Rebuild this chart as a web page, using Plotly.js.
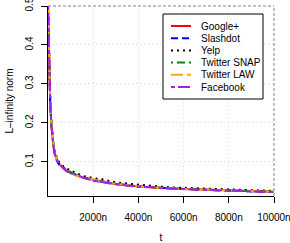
<!DOCTYPE html>
<html><head><meta charset="utf-8">
<script src="https://cdn.plot.ly/plotly-3.0.1.min.js"></script>
<style>html,body{margin:0;padding:0;background:#fff}#chart{width:290px;height:243px}</style>
</head><body><div id="chart"></div>
<script>
var t = [0,25,50,75,100,150,200,250,300,400,500,600,700,800,1000,1200,1400,1600,1800,2000,2250,2500,2750,3000,3500,4000,4500,5000,5500,6000,6500,7000,7500,8000,8500,9000,9500,10000];
var googlePlus = [0.5,0.41,0.335,0.285,0.245,0.192,0.158,0.137,0.121,0.104,0.094,0.088,0.082,0.078,0.071,0.066,0.062,0.058,0.056,0.054,0.050,0.048,0.046,0.042,0.041,0.036,0.035,0.033,0.031,0.030,0.029,0.028,0.027,0.027,0.025,0.025,0.024,0.023];
var slashdot = [0.5,0.42,0.345,0.29,0.25,0.198,0.161,0.135,0.12,0.101,0.092,0.086,0.084,0.077,0.07,0.068,0.061,0.06,0.055,0.052,0.049,0.047,0.044,0.043,0.039,0.037,0.035,0.032,0.031,0.030,0.028,0.028,0.026,0.026,0.025,0.024,0.024,0.022];
var yelp = [0.5,0.43,0.35,0.295,0.255,0.2,0.165,0.142,0.126,0.108,0.098,0.091,0.087,0.083,0.077,0.072,0.067,0.063,0.060,0.058,0.056,0.054,0.050,0.047,0.044,0.041,0.038,0.036,0.034,0.033,0.032,0.030,0.029,0.028,0.027,0.026,0.025,0.025];
var twitterSnap = [0.5,0.42,0.34,0.29,0.252,0.196,0.16,0.139,0.123,0.106,0.096,0.088,0.083,0.079,0.073,0.067,0.063,0.059,0.056,0.053,0.05,0.047,0.046,0.043,0.040,0.037,0.035,0.033,0.031,0.030,0.029,0.028,0.027,0.026,0.025,0.025,0.024,0.023];
var twitterLaw = [0.5,0.43,0.35,0.292,0.25,0.195,0.162,0.14,0.122,0.104,0.093,0.087,0.081,0.078,0.071,0.066,0.062,0.059,0.057,0.053,0.051,0.048,0.045,0.043,0.040,0.037,0.034,0.033,0.031,0.030,0.029,0.028,0.027,0.026,0.025,0.024,0.024,0.023];
var facebook = [0.5,0.415,0.338,0.288,0.248,0.193,0.157,0.136,0.12,0.103,0.094,0.087,0.082,0.077,0.072,0.066,0.061,0.058,0.055,0.052,0.049,0.047,0.045,0.042,0.039,0.036,0.035,0.032,0.031,0.029,0.028,0.027,0.027,0.025,0.025,0.024,0.023,0.022];

var names = ["Google+","Slashdot","Yelp","Twitter SNAP","Twitter LAW","Facebook"];
var values = [googlePlus, slashdot, yelp, twitterSnap, twitterLaw, facebook];
var colors = ["#FF0000","#0000FF","#000000","#008B00","#FFA500","#A020F0"];
var dashes = ["solid","7px,4px","2px,4px","2px,4px,8px,4px","12px,4px","4px,3px,12px,3px"];
var xTicks = [2000,4000,6000,8000,10000];
var xTickText = ["2000n","4000n","6000n","8000n","10000n"];
var yTicks = [0.1,0.2,0.3,0.4,0.5];
var yTickText = ["0.1","0.2","0.3","0.4","0.5"];

var traces = names.map(function(n,i){
  return {x:t, y:values[i], type:'scatter', mode:'lines', name:n,
    line:{color:colors[i], width:2, dash:dashes[i]}, showlegend:false};
});

var W=290,H=243,L=48,R=16,T=6,B=47;
var pw=W-L-R, ph=H-T-B;
function px(x){return (x-L)/pw;}
function py(y){return (H-B-y)/ph;}

var shapes = [
  {type:'line',xref:'paper',yref:'paper',x0:0,x1:1,y0:1,y1:1,line:{color:'#808080',width:1,dash:'3px,2px'}},
  {type:'line',xref:'paper',yref:'paper',x0:1,x1:1,y0:0,y1:1,line:{color:'#808080',width:1,dash:'3px,2px'}},
  {type:'rect',xref:'paper',yref:'paper',x0:px(163),x1:px(263),y0:py(99),y1:py(14),line:{color:'#000',width:1},fillcolor:'#fff',layer:'above'}
];
var annotations = [];
var rowY = 26, rowStep = 12.2;
names.forEach(function(n,i){
  var yy = rowY + i*rowStep;
  shapes.push({type:'line',xref:'paper',yref:'paper',x0:px(171),x1:px(191),y0:py(yy),y1:py(yy),layer:'above',
    line:{color:colors[i],width:2,dash:dashes[i]}});
  annotations.push({xref:'paper',yref:'paper',x:px(199),y:py(yy),text:n,showarrow:false,xanchor:'left',yanchor:'middle',
    font:{size:10,color:'#000',family:'Liberation Sans, Arial, sans-serif'}});
});

var layout = {
  width:W, height:H, margin:{l:L,r:R,t:T,b:B},
  paper_bgcolor:'#fff', plot_bgcolor:'#fff',
  font:{family:'Liberation Sans, Arial, sans-serif', size:10, color:'#000'},
  showlegend:false,
  xaxis:{range:[0,10000], tickmode:'array', tickvals:xTicks, ticktext:xTickText, showline:true, linecolor:'#000', linewidth:1,
    ticks:'outside', ticklen:6, tickcolor:'#000', zeroline:false, showgrid:true, gridcolor:'#d9d9d9', griddash:'1px,3px',
    ticklabelstandoff:6, ticklabeloverflow:'allow',
    title:{text:'t', font:{size:10}, standoff:19}},
  yaxis:{range:[0.012,0.5], tickmode:'array', tickvals:yTicks, ticktext:yTickText, showline:true, linecolor:'#000', linewidth:1,
    ticks:'outside', ticklen:6, tickcolor:'#000', zeroline:false, showgrid:true, gridcolor:'#d9d9d9', griddash:'1px,3px',
    tickangle:-90, ticklabelstandoff:4, ticklabeloverflow:'allow',
    title:{text:'L–infinity norm', font:{size:10}, standoff:8}},
  shapes:shapes, annotations:annotations
};
Plotly.newPlot('chart', traces, layout, {staticPlot:true, displayModeBar:false});
</script></body></html>
